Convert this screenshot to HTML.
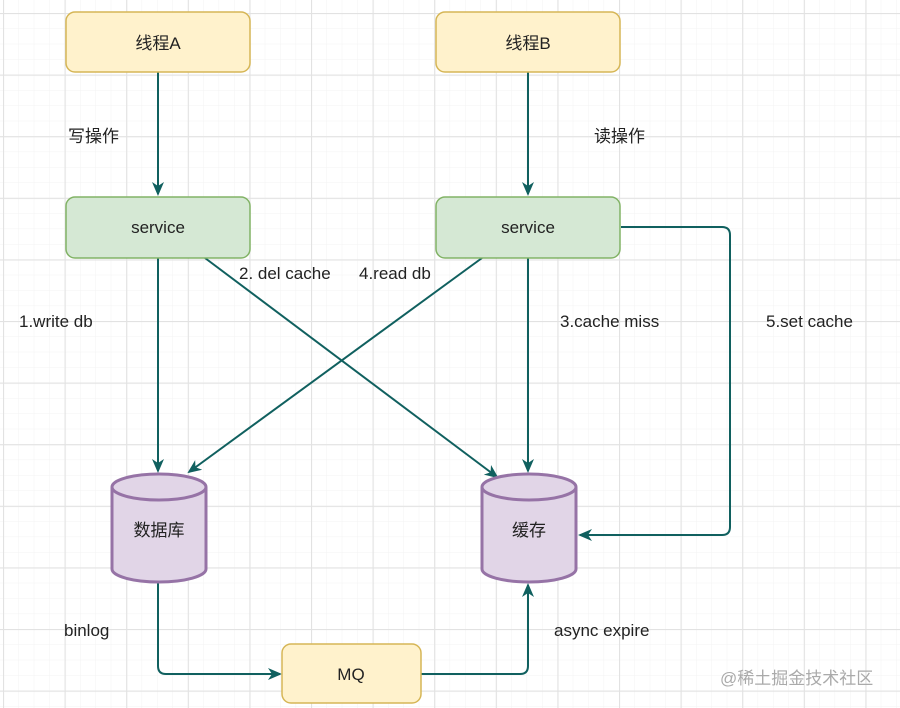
<!DOCTYPE html>
<html><head><meta charset="utf-8"><style>
body{margin:0;width:900px;height:708px;overflow:hidden;background:#fff}
svg{display:block}
text{font-family:"Liberation Sans","Noto Sans CJK SC",sans-serif;fill:#222}
</style></head><body>
<svg width="900" height="708" viewBox="0 0 900 708" xmlns="http://www.w3.org/2000/svg">
<defs>
<pattern id="minor" x="3" y="13" width="15.4" height="15.4" patternUnits="userSpaceOnUse"><path d="M0 0H15.4M0 0V15.4" stroke="#f3f3f3" stroke-width="1" fill="none"/></pattern>
<pattern id="major" x="3" y="13" width="61.6" height="61.6" patternUnits="userSpaceOnUse"><path d="M0 0.5H61.6M0.5 0V61.6" stroke="#e2e2e2" stroke-width="1.2" fill="none"/></pattern>
<marker id="a" markerWidth="14" markerHeight="14" refX="12" refY="7" orient="auto" markerUnits="userSpaceOnUse"><path d="M0 1L14 7L0 13L4 7Z" fill="#10605f"/></marker>
</defs>
<rect width="900" height="708" fill="url(#minor)"/>
<rect width="900" height="708" fill="url(#major)"/>
<g stroke="#10605f" stroke-width="2" fill="none">
<path d="M158 72V194" marker-end="url(#a)"/>
<path d="M528 72V194" marker-end="url(#a)"/>
<path d="M158 258V471" marker-end="url(#a)"/>
<path d="M528 258V471" marker-end="url(#a)"/>
<path d="M205 258L497 477" marker-end="url(#a)"/>
<path d="M482 258L189 472" marker-end="url(#a)"/>
<path d="M621 227H722Q730 227 730 235V527Q730 535 722 535H580" marker-end="url(#a)"/>
<path d="M158 583V666Q158 674 166 674H280" marker-end="url(#a)"/>
<path d="M421 674H520Q528 674 528 666V585" marker-end="url(#a)"/>
</g>
<g stroke="#d6b656" stroke-width="1.5" fill="#fff2cc">
<rect x="66" y="12" width="184" height="60" rx="9"/>
<rect x="436" y="12" width="184" height="60" rx="9"/>
<rect x="282" y="644" width="139" height="59" rx="9"/>
</g>
<g stroke="#82b366" stroke-width="1.5" fill="#d5e8d4">
<rect x="66" y="197" width="184" height="61" rx="9"/>
<rect x="436" y="197" width="184" height="61" rx="9"/>
</g>
<g stroke="#9673a6" stroke-width="3" fill="#e1d5e7">
<path d="M112 487V569A47 13 0 0 0 206 569V487A47 13 0 0 0 112 487Z"/>
<path d="M112 487A47 13 0 0 0 206 487"/>
<path d="M482 487V569A47 13 0 0 0 576 569V487A47 13 0 0 0 482 487Z"/>
<path d="M482 487A47 13 0 0 0 576 487"/>
</g>
<g font-size="17" text-anchor="middle">
<text x="158" y="49">线程A</text>
<text x="528" y="49">线程B</text>
<text x="158" y="233">service</text>
<text x="528" y="233">service</text>
<text x="159" y="536">数据库</text>
<text x="529" y="536">缓存</text>
<text x="351" y="680">MQ</text>
</g>
<g font-size="17">
<text x="68" y="142">写操作</text>
<text x="594" y="142">读操作</text>
<text x="239" y="279">2. del cache</text>
<text x="359" y="279">4.read db</text>
<text x="19" y="327">1.write db</text>
<text x="560" y="327">3.cache miss</text>
<text x="766" y="327">5.set cache</text>
<text x="64" y="636">binlog</text>
<text x="554" y="636">async expire</text>
</g>
<text x="720" y="684" font-size="17" style="fill:#aaa">@稀土掘金技术社区</text>
</svg>
</body></html>
